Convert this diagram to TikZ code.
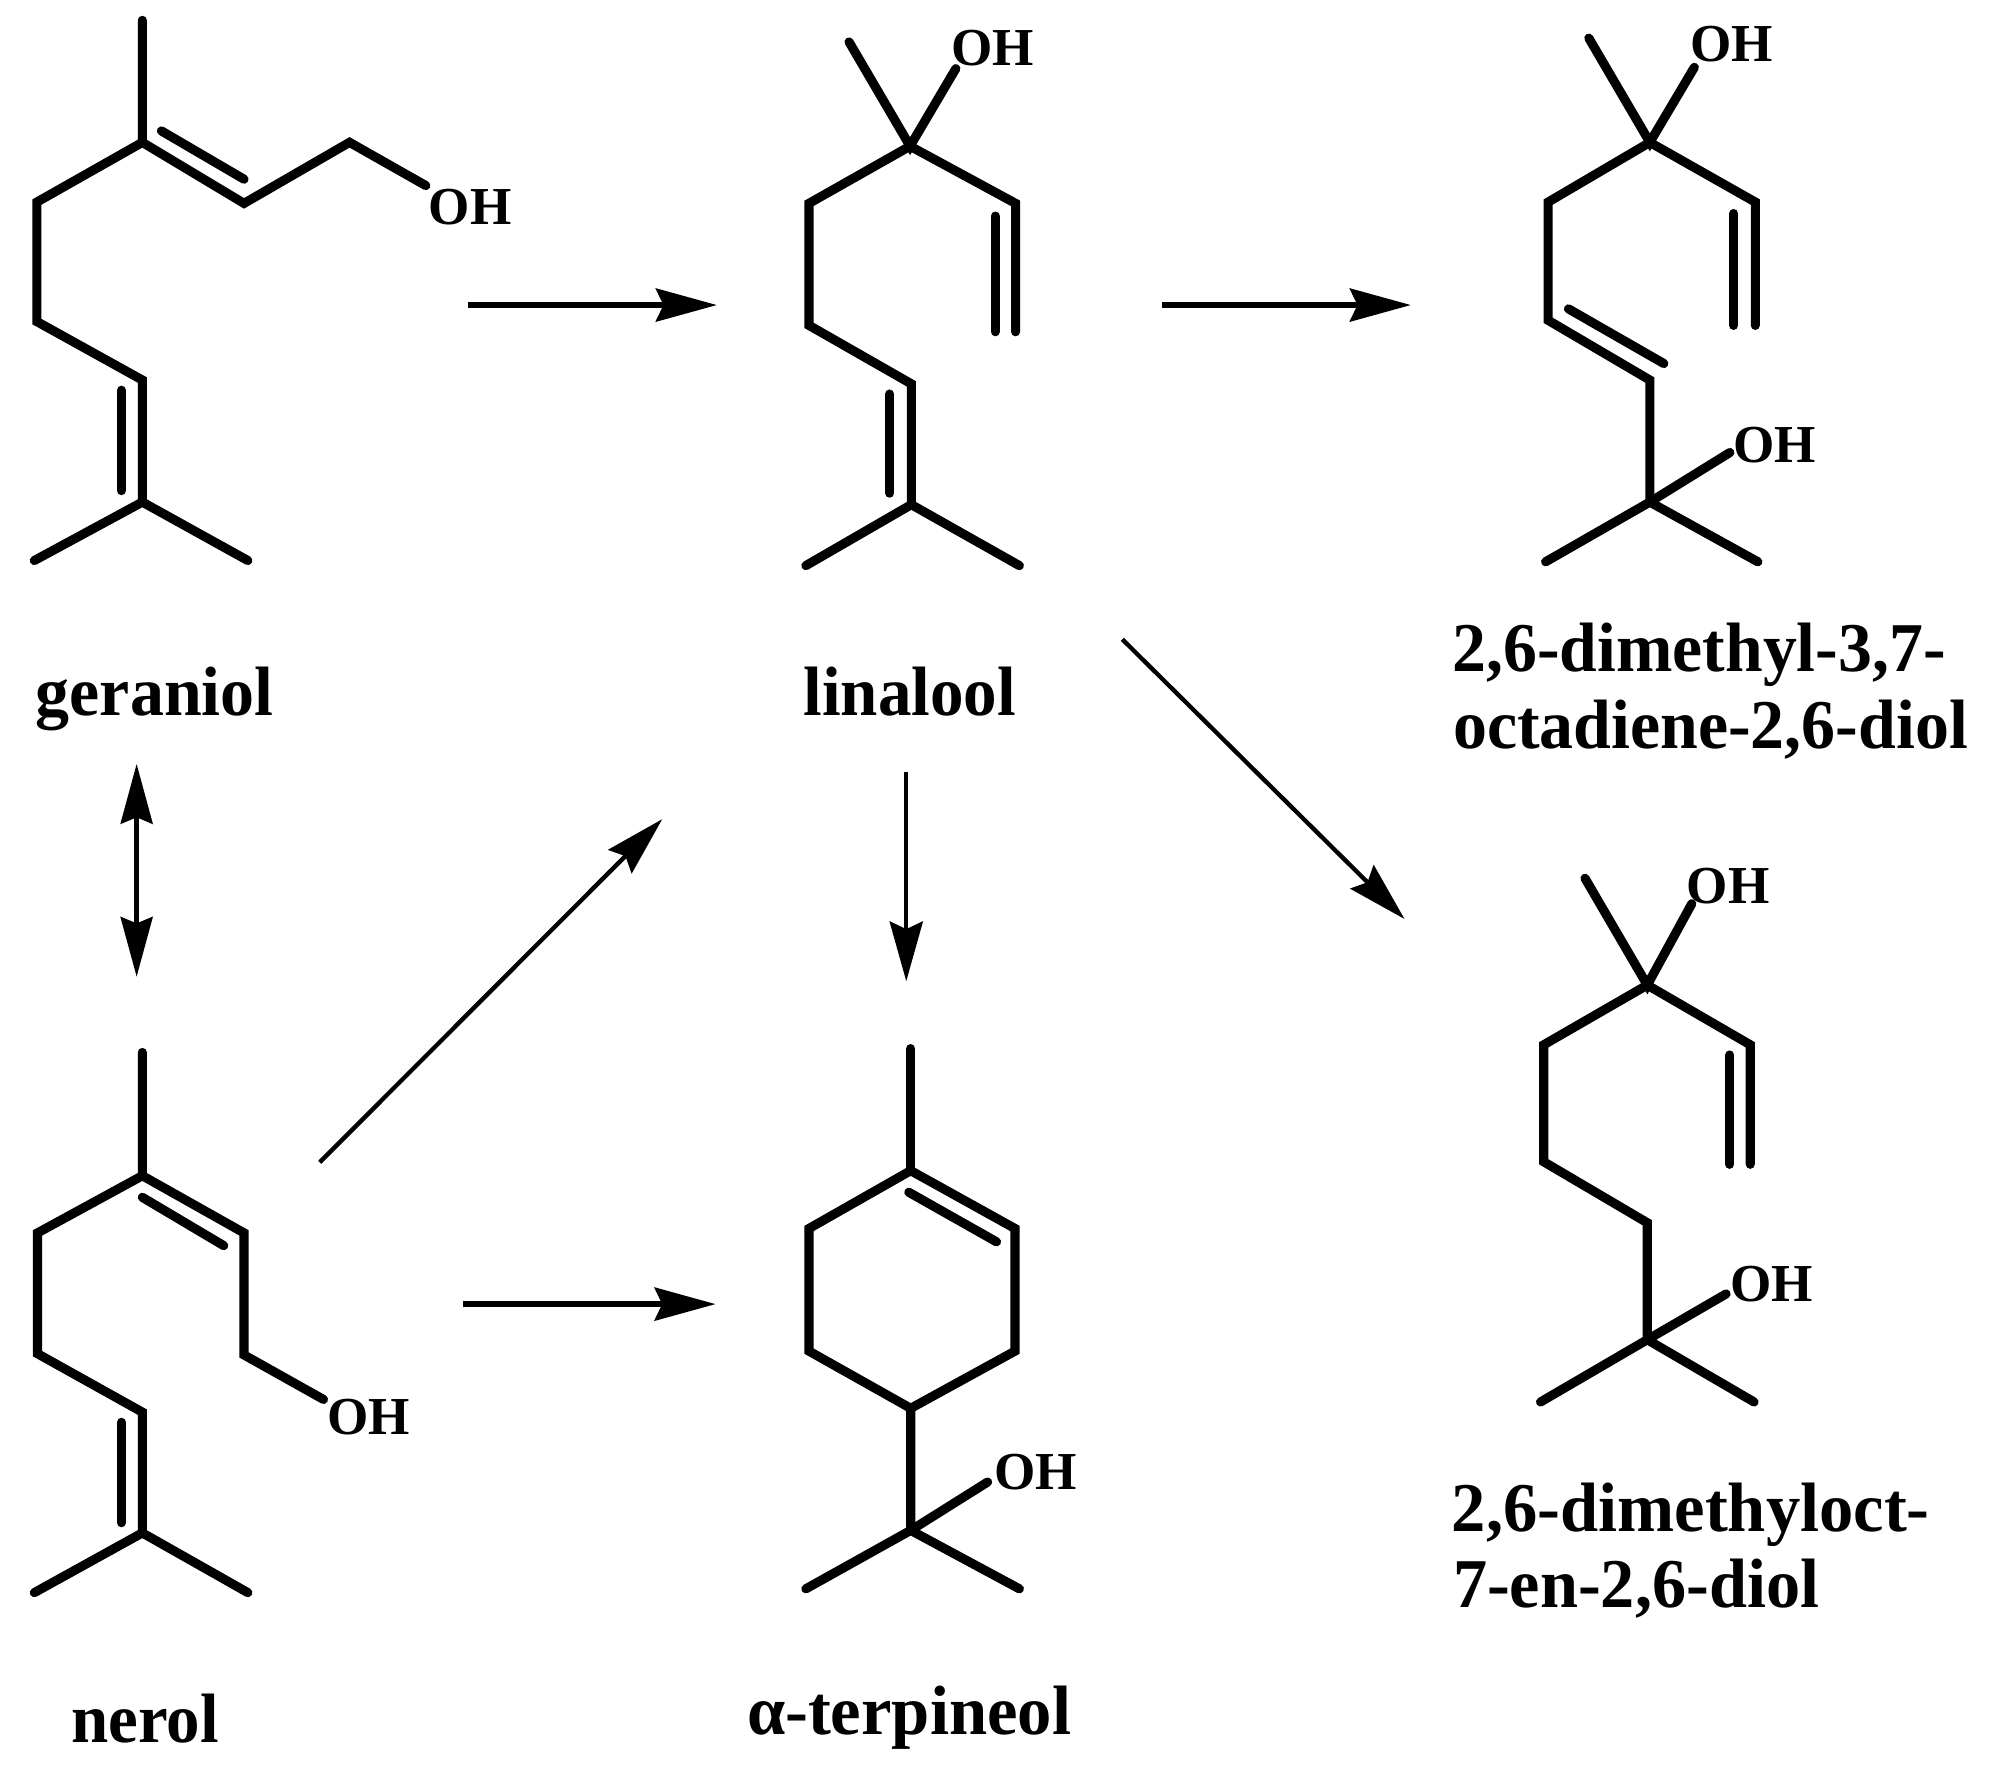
\documentclass[tikz,border=0pt]{standalone}
\usepackage{graphicx}
\usepackage{fontspec}
\setmainfont{Liberation Serif}
\usetikzlibrary{arrows.meta}
\newcommand{\fitw}[2]{\resizebox{#1pt}{\height}{#2}}
\tikzset{
  bond/.style={line width=7.2pt,line cap=round,line join=miter,black},
  rxn/.style={line width=4.3pt,black,-{Stealth[length=48pt,width=26pt,inset=6pt]}},
  rxnthin/.style={line width=3.4pt,black,-{Stealth[length=47pt,width=26pt,inset=6pt]}},
  rxnboth/.style={line width=4.2pt,black,{Stealth[length=47pt,width=25pt,inset=5pt]}-{Stealth[length=47pt,width=25pt,inset=5pt]}},
  oh/.style={inner sep=0pt,font=\fontsize{42}{42}\selectfont\bfseries},
  chemlabel/.style={inner sep=0pt,anchor=base west,font=\fontsize{55}{55}\selectfont\bfseries},
}
\begin{document}
\begin{tikzpicture}[x=1pt,y=-1pt]
\useasboundingbox (0,0) rectangle (1568,1396.5);
% geraniol
\coordinate (g1) at (112,16); \coordinate (g2) at (112,112); \coordinate (g3) at (192,160);
\coordinate (g4) at (275,112); \coordinate (g5) at (29,159); \coordinate (g6) at (29,253);
\coordinate (g7) at (112,299); \coordinate (g8) at (112,395); \coordinate (g9) at (27,441);
\coordinate (g10) at (195,441); \coordinate (gb) at (335,146);
\coordinate (gi1) at (127,103); \coordinate (gi2) at (192,141);
\coordinate (gi3) at (95.5,307); \coordinate (gi4) at (95.5,386);
\node[oh] (goh) at (370,163) {\fitw{65}{OH}};
\draw[bond] (g1) -- (g2) -- (g3) -- (g4) -- (gb);
\draw[bond] (g2) -- (g5) -- (g6) -- (g7) -- (g8) -- (g9);
\draw[bond] (g8) -- (g10);
\draw[bond] (gi1) -- (gi2);
\draw[bond] (gi3) -- (gi4);
\node[chemlabel] (gname) at (28,563) {\fitw{187}{geraniol}};
% linalool
\coordinate (l1) at (668,33); \coordinate (l2) at (716,115); \coordinate (lb) at (752,54);
\coordinate (l3) at (799,160); \coordinate (l3e) at (799,261); \coordinate (li1) at (783,170);
\coordinate (li2) at (783,261); \coordinate (l4) at (636.5,160); \coordinate (l5) at (636.5,256);
\coordinate (l6) at (717,302); \coordinate (l7) at (717,397); \coordinate (l8) at (634,445);
\coordinate (l9) at (802,445); \coordinate (li3) at (700,310); \coordinate (li4) at (700,388);
\node[oh] (loh) at (781,38) {\fitw{65}{OH}};
\draw[bond] (l1) -- (l2) -- (lb);
\draw[bond] (l2) -- (l3) -- (l3e);
\draw[bond] (li1) -- (li2);
\draw[bond] (l2) -- (l4) -- (l5) -- (l6) -- (l7) -- (l8);
\draw[bond] (l7) -- (l9);
\draw[bond] (li3) -- (li4);
\node[chemlabel] (lname) at (632,563) {\fitw{167}{linalool}};
% 2,6-dimethyl-3,7-octadiene-2,6-diol
\coordinate (d1) at (1250,30); \coordinate (d2) at (1298,112); \coordinate (db) at (1333,53);
\coordinate (d3) at (1381,159); \coordinate (d3e) at (1381,256); \coordinate (di1) at (1364,168);
\coordinate (di2) at (1364,256); \coordinate (d4) at (1218,159); \coordinate (d5) at (1218,252);
\coordinate (d6) at (1298,299); \coordinate (d7) at (1298,395); \coordinate (d8) at (1216,442);
\coordinate (d9) at (1383,442); \coordinate (dc) at (1361,356);
\coordinate (di3) at (1234,243); \coordinate (di4) at (1309,286);
\node[oh] (doh1) at (1362.5,35) {\fitw{65}{OH}};
\node[oh] (doh2) at (1396,350) {\fitw{65}{OH}};
\draw[bond] (d1) -- (d2) -- (db);
\draw[bond] (d2) -- (d3) -- (d3e);
\draw[bond] (di1) -- (di2);
\draw[bond] (d2) -- (d4) -- (d5) -- (d6) -- (d7) -- (d8);
\draw[bond] (d7) -- (d9);
\draw[bond] (d7) -- (dc);
\draw[bond] (di3) -- (di4);
\node[chemlabel] (dname1) at (1142.5,528) {\fitw{388}{2,6-dimethyl-3,7-}};
\node[chemlabel] (dname2) at (1143,589) {\fitw{405}{octadiene-2,6-diol}};
% 2,6-dimethyloct-7-en-2,6-diol
\coordinate (e1) at (1247,691); \coordinate (e2) at (1296,775); \coordinate (eb) at (1331,711);
\coordinate (e3) at (1377,822); \coordinate (e3e) at (1377,916); \coordinate (ei1) at (1361,830);
\coordinate (ei2) at (1361,916); \coordinate (e4) at (1214.5,822); \coordinate (e5) at (1214.5,914);
\coordinate (e6) at (1296,962); \coordinate (e7) at (1296,1054); \coordinate (e8) at (1212,1103);
\coordinate (e9) at (1380,1103); \coordinate (ec) at (1358,1018);
\node[oh] (eoh1) at (1359.5,697) {\fitw{65}{OH}};
\node[oh] (eoh2) at (1394,1010) {\fitw{65}{OH}};
\draw[bond] (e1) -- (e2) -- (eb);
\draw[bond] (e2) -- (e3) -- (e3e);
\draw[bond] (ei1) -- (ei2);
\draw[bond] (e2) -- (e4) -- (e5) -- (e6) -- (e7) -- (e8);
\draw[bond] (e7) -- (e9);
\draw[bond] (e7) -- (ec);
\node[chemlabel] (ename1) at (1142,1205) {\fitw{376}{2,6-dimethyloct-}};
\node[chemlabel] (ename2) at (1143,1265) {\fitw{288}{7-en-2,6-diol}};
% nerol
\coordinate (n1) at (112,828); \coordinate (n2) at (112,925); \coordinate (n3) at (192,970);
\coordinate (n4) at (192,1066); \coordinate (nb) at (254.5,1101); \coordinate (n5) at (29.5,970);
\coordinate (n6) at (29.5,1065); \coordinate (n7) at (112,1111); \coordinate (n8) at (112,1206);
\coordinate (n9) at (27,1253); \coordinate (n10) at (195,1253);
\coordinate (ni1) at (112,942); \coordinate (ni2) at (176,980);
\coordinate (ni3) at (95.5,1119); \coordinate (ni4) at (95.5,1198);
\node[oh] (noh) at (290,1115) {\fitw{65}{OH}};
\draw[bond] (n1) -- (n2) -- (n3) -- (n4) -- (nb);
\draw[bond] (n2) -- (n5) -- (n6) -- (n7) -- (n8) -- (n9);
\draw[bond] (n8) -- (n10);
\draw[bond] (ni1) -- (ni2);
\draw[bond] (ni3) -- (ni4);
\node[chemlabel] (nname) at (56,1371) {\fitw{116}{nerol}};
% alpha-terpineol
\coordinate (t1) at (716.5,825); \coordinate (t2) at (716.5,921); \coordinate (t3) at (798.5,966.5);
\coordinate (t4) at (798.5,1063); \coordinate (t5) at (716.5,1108); \coordinate (t6) at (636.5,1063);
\coordinate (t7) at (636.5,966.5); \coordinate (ti1) at (715,938); \coordinate (ti2) at (784,977);
\coordinate (t8) at (716.5,1204); \coordinate (t9) at (634,1250); \coordinate (t10) at (802,1250);
\coordinate (tb) at (777,1166);
\node[oh] (toh) at (815,1158) {\fitw{65}{OH}};
\draw[bond] (t2) -- (t3) -- (t4) -- (t5) -- (t6) -- (t7) -- cycle;
\draw[bond] (t1) -- (t2);
\draw[bond] (ti1) -- (ti2);
\draw[bond] (t5) -- (t8) -- (t9);
\draw[bond] (t8) -- (t10);
\draw[bond] (t8) -- (tb);
\node[chemlabel] (tname) at (587.5,1364.5) {\fitw{255}{α-terpineol}};
% reaction arrows
\coordinate (a1s) at (368,240); \coordinate (a1e) at (564,240);
\coordinate (a2s) at (914,240); \coordinate (a2e) at (1110,240);
\coordinate (a3s) at (883,503); \coordinate (a3e) at (1105,723);
\coordinate (a4s) at (713,607); \coordinate (a4e) at (713,772);
\coordinate (a5s) at (107.5,601) ; \coordinate (a5e) at (107.5,768.5);
\coordinate (a6s) at (251.5,914.5); \coordinate (a6e) at (521,644.5);
\coordinate (a7s) at (364,1026); \coordinate (a7e) at (563,1026);
\draw[rxn] (a1s) -- (a1e);
\draw[rxn] (a2s) -- (a2e);
\draw[rxnthin] (a3s) -- (a3e);
\draw[rxnthin] (a4s) -- (a4e);
\draw[rxnboth] (a5s) -- (a5e);
\draw[rxnthin] (a6s) -- (a6e);
\draw[rxn] (a7s) -- (a7e);
\end{tikzpicture}
\end{document}
